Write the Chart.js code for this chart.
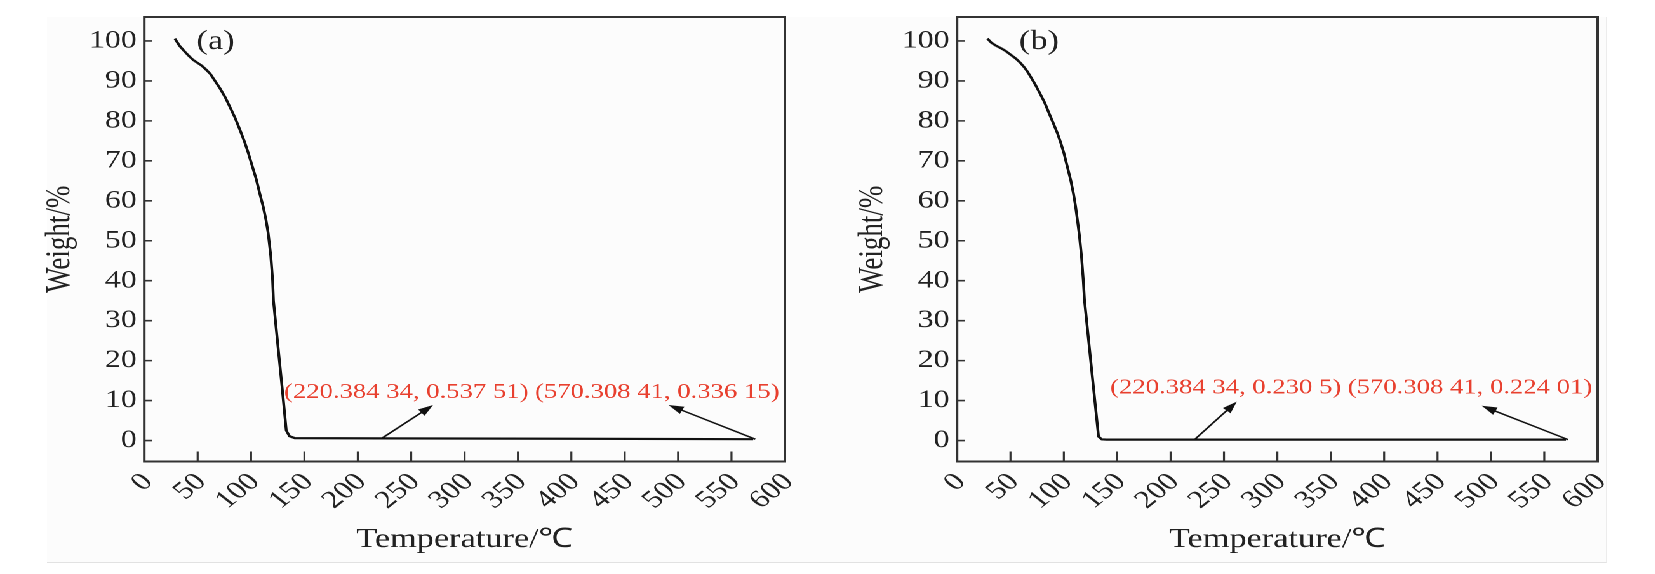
<!DOCTYPE html>
<html>
<head>
<meta charset="utf-8">
<script src="https://cdn.jsdelivr.net/npm/chart.js@4.4.1/dist/chart.umd.min.js"></script>
<style>
  html, body { margin: 0; padding: 0; background: #fff; width: 1655px; height: 574px; overflow: hidden; }
  #moldura { position: absolute; left: 47px; top: 17px; width: 1559px; height: 545px; background: #fcfcfc;
             border-right: 1px solid #ececec; border-bottom: 1px solid #e2e2e2; }
  /* a figura original está esticada na horizontal */
  #wrap { position: absolute; left: 0; top: 0; width: 1303px; height: 574px; transform: scaleX(1.27); transform-origin: 0 0; }
  .painel { position: absolute; top: 0; width: 640px; height: 574px; }
</style>
</head>
<body>
<div id="moldura"></div>
<div id="wrap">
  <div class="painel" style="left:0"><canvas id="grafico-a"></canvas></div>
  <div class="painel" style="left:640px"><canvas id="grafico-b"></canvas></div>
</div>
<script>
// (a)
const temperaturaA = [28.7, 33, 38, 42, 46, 50, 54, 58, 62, 66, 71, 76, 80, 85, 90, 94, 97.5, 101, 105, 108, 111.5, 114, 116, 118.5, 120.2, 121, 125, 129, 133, 136, 141, 220.38434, 400, 570.30841];
const pesoA = [100.6, 98.8, 97.3, 96.2, 95.2, 94.5, 93.8, 92.8, 91.7, 90.1, 88.1, 85.8, 83.6, 80.8, 77.5, 74.7, 71.9, 68.8, 65.3, 62.0, 58.4, 55.2, 52.0, 46.2, 40.2, 35.0, 24.2, 13.6, 2.5, 1.1, 0.6, 0.53751, 0.44, 0.33615];
// (b)
const temperaturaB = [28.4, 32, 36, 41, 45.5, 50, 55, 59, 63, 66, 69, 73, 77, 82, 86, 90, 94, 97, 100, 103, 106.5, 109, 111, 113, 114.5, 116.5, 118.2, 119.3, 123, 127, 130.5, 132.5, 135.5, 140, 220.38434, 400, 570.30841];
const pesoB = [100.6, 99.6, 98.9, 98.2, 97.5, 96.6, 95.6, 94.6, 93.4, 92.3, 91.0, 89.2, 87.2, 84.6, 82.0, 79.5, 76.9, 74.6, 72.0, 68.8, 65.1, 61.8, 58.6, 54.6, 51.5, 46.2, 40.2, 35.2, 25.6, 15.2, 6.2, 1.0, 0.3, 0.23, 0.2305, 0.227, 0.22401];

const ticksX = [0, 50, 100, 150, 200, 250, 300, 350, 400, 450, 500, 550, 600];
const ticksY = [0, 10, 20, 30, 40, 50, 60, 70, 80, 90, 100];

// pontos marcados e seus rótulos
const pontosA = [[220.38434, 0.53751], [570.30841, 0.33615]];
const pontosB = [[220.38434, 0.2305], [570.30841, 0.22401]];
const rotulosA = ["(220.384 34, 0.537 51)", "(570.308 41, 0.336 15)"];
const rotulosB = ["(220.384 34, 0.230 5)", "(570.308 41, 0.224 01)"];

const FONTE = "'Liberation Serif', 'Times New Roman', serif";
const COR_EIXO = "#333";
const COR_TEXTO = "#222";

function seta(ctx, x1, y1, x2, y2) {
  const ang = Math.atan2(y2 - y1, x2 - x1);
  const tam = 12, larg = 4;
  ctx.beginPath();
  ctx.moveTo(x1, y1);
  ctx.lineTo(x2 - Math.cos(ang) * tam * 0.8, y2 - Math.sin(ang) * tam * 0.8);
  ctx.stroke();
  ctx.beginPath();
  ctx.moveTo(x2, y2);
  ctx.lineTo(x2 - Math.cos(ang) * tam - Math.sin(ang) * larg, y2 - Math.sin(ang) * tam + Math.cos(ang) * larg);
  ctx.lineTo(x2 - Math.cos(ang) * tam + Math.sin(ang) * larg, y2 - Math.sin(ang) * tam - Math.cos(ang) * larg);
  ctx.closePath();
  ctx.fill();
}

const molduraPlugin = {
  id: "moldura",
  afterDatasetsDraw(chart, args, opts) {
    const { ctx, chartArea: a, scales: { x, y } } = chart;
    ctx.save();
    // caixa
    ctx.strokeStyle = COR_EIXO;
    ctx.lineWidth = 2;
    ctx.strokeRect(a.left, a.top, a.right - a.left, a.bottom - a.top);
    // ticks para dentro
    ctx.lineWidth = 1.6;
    ctx.beginPath();
    ticksX.forEach(function (v) {
      if (v <= 0 || v >= 600) return;
      const px = x.getPixelForValue(v);
      ctx.moveTo(px, a.bottom);
      ctx.lineTo(px, a.bottom - 10);
    });
    ticksY.forEach(function (v) {
      const py = y.getPixelForValue(v);
      ctx.moveTo(a.left, py);
      ctx.lineTo(a.left + 6.3, py);
    });
    ctx.stroke();

    // letra do painel
    ctx.fillStyle = COR_TEXTO;
    ctx.font = "27px " + FONTE;
    ctx.textAlign = "left";
    ctx.textBaseline = "middle";
    ctx.fillText(opts.letra, x.getPixelForValue(opts.letraX), y.getPixelForValue(99.8));

    // setas
    ctx.strokeStyle = "#111";
    ctx.fillStyle = "#111";
    ctx.lineWidth = 1.5;
    opts.pontos.forEach(function (p, i) {
      const ponta = opts.pontas[i];
      seta(ctx, x.getPixelForValue(p[0] + 2), y.getPixelForValue(p[1]),
        x.getPixelForValue(ponta[0]), y.getPixelForValue(ponta[1]));
    });

    // rótulos vermelhos
    ctx.fillStyle = "#e8402f";
    ctx.font = "21px " + FONTE;
    ctx.textAlign = "right";
    const xFim = x.getPixelForValue(595);
    const yTxt = y.getPixelForValue(opts.rotuloY);
    const segundo = opts.rotulos[1];
    ctx.fillText(segundo, xFim, yTxt);
    const w2 = ctx.measureText(segundo + " ").width;
    ctx.fillText(opts.rotulos[0], xFim - w2, yTxt);
    ctx.restore();
  }
};

function criarGrafico(canvas, temperaturas, pesos, opcoesMoldura) {
  return new Chart(canvas, {
    type: "line",
    data: {
      datasets: [
        {
          label: "Weight",
          data: temperaturas.map(function (t, i) { return { x: t, y: pesos[i] }; }),
          borderColor: "#111",
          borderWidth: 2.2,
          pointRadius: 0,
          tension: 0,
          fill: false,
        },
      ],
    },
    options: {
      responsive: true,
      maintainAspectRatio: false,
      animation: false,
      devicePixelRatio: 2,
      layout: { padding: { top: 17, right: 22, left: 0, bottom: 0 } },
      plugins: {
        legend: { display: false },
        tooltip: { enabled: false },
        moldura: opcoesMoldura,
      },
      scales: {
        x: {
          type: "linear",
          min: 0,
          max: 600,
          grid: { display: false, drawTicks: false },
          border: { display: false },
          afterBuildTicks: function (s) { s.ticks = ticksX.map(function (v) { return { value: v }; }); },
          afterFit: function (s) { s.height = 112.5; s.paddingLeft = 0; s.paddingRight = 0; },
          ticks: {
            autoSkip: false,
            maxRotation: 45,
            minRotation: 45,
            padding: 6,
            labelOffset: 3,
            color: COR_TEXTO,
            font: { family: FONTE, size: 25 },
          },
          title: {
            display: true,
            text: "Temperature/℃",
            color: COR_TEXTO,
            font: { family: FONTE, size: 27 },
            padding: { top: 0, bottom: 18 },
          },
        },
        y: {
          type: "linear",
          min: -5.25,
          max: 106,
          grid: { display: false, drawTicks: false },
          border: { display: false },
          afterBuildTicks: function (s) { s.ticks = ticksY.map(function (v) { return { value: v }; }); },
          afterFit: function (s) { s.width = 113.6; s.paddingTop = 0; s.paddingBottom = 0; },
          ticks: {
            padding: 6,
            color: COR_TEXTO,
            font: { family: FONTE, size: 25 },
          },
          title: {
            display: true,
            text: "Weight/%",
            color: COR_TEXTO,
            font: { family: FONTE, size: 27 },
            padding: { top: 31, bottom: 0 },
          },
        },
      },
    },
    plugins: [molduraPlugin],
  });
}

criarGrafico(document.getElementById("grafico-a"), temperaturaA, pesoA, {
  letra: "(a)",
  letraX: 49,
  pontos: pontosA,
  pontas: [[270.5, 8.9], [491, 8.9]],
  rotulos: rotulosA,
  rotuloY: 12.0,
});

criarGrafico(document.getElementById("grafico-b"), temperaturaB, pesoB, {
  letra: "(b)",
  letraX: 58,
  pontos: pontosB,
  pontas: [[262, 9.75], [491.4, 8.7]],
  rotulos: rotulosB,
  rotuloY: 13.1,
});
</script>
</body>
</html>
